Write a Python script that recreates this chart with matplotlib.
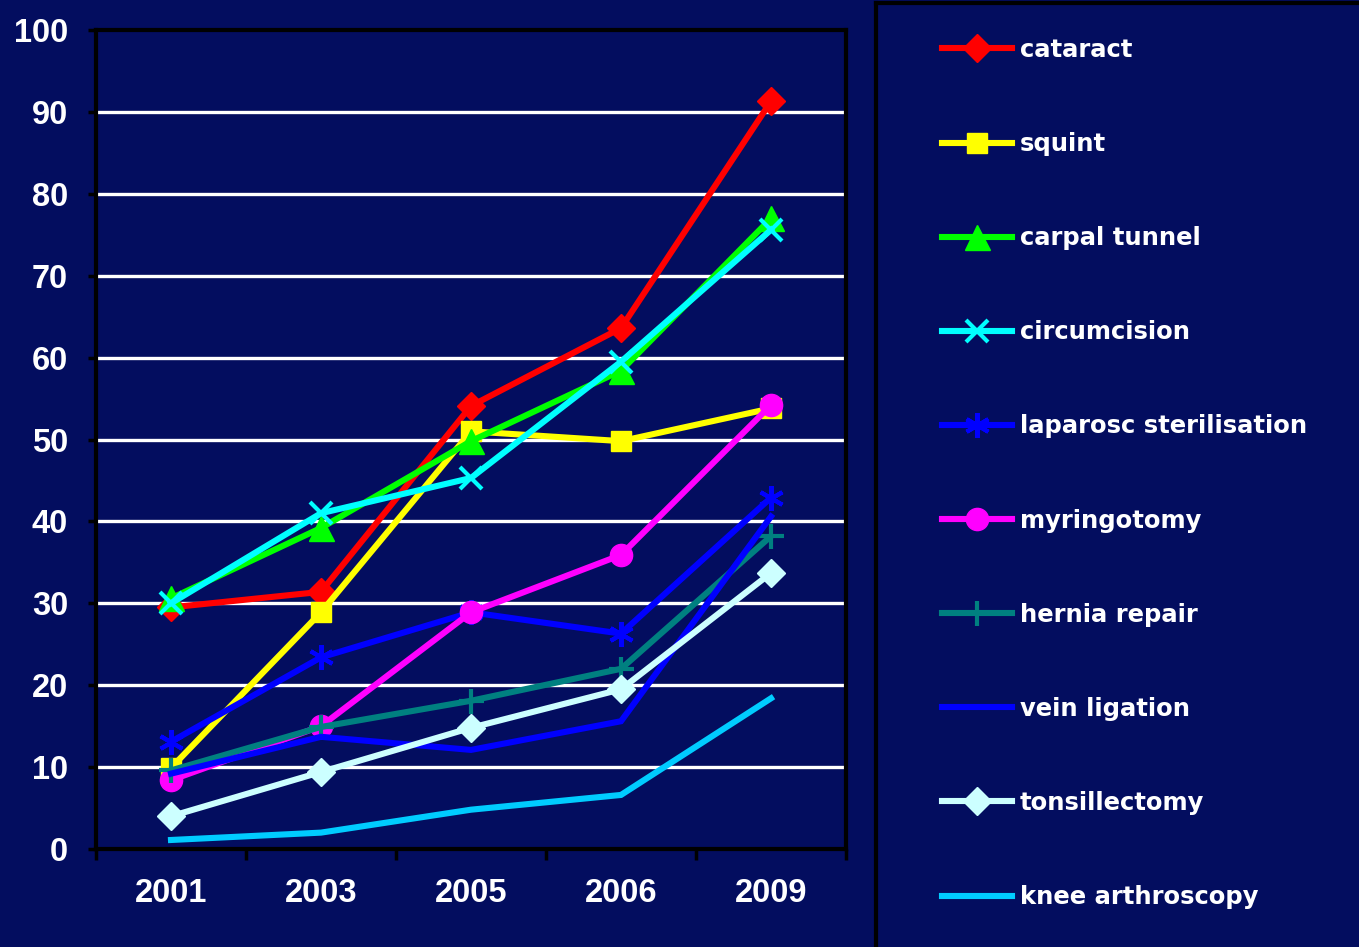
import matplotlib
matplotlib.use("Agg")
import matplotlib.pyplot as plt
from matplotlib.ticker import FixedLocator, NullFormatter, FixedFormatter

years = ["2001", "2003", "2005", "2006", "2009"]

cataract = [29.5, 31.4, 54.1, 63.6, 91.3]
squint = [9.9, 28.9, 51.0, 49.8, 53.8]
carpal_tunnel = [30.6, 39.2, 49.8, 58.4, 77.0]
circumcision = [30.0, 41.0, 45.3, 59.5, 75.6]
laparosc_sterilisation = [13.1, 23.4, 28.9, 26.3, 42.9]
myringotomy = [8.4, 15.0, 28.9, 35.9, 54.2]
hernia_repair = [9.6, 14.9, 18.1, 22.0, 38.2]
vein_ligation = [9.2, 13.7, 12.1, 15.6, 40.6]
tonsillectomy = [4.0, 9.4, 14.8, 19.5, 33.7]
knee_arthroscopy = [1.1, 2.0, 4.8, 6.6, 18.4]

series_names = ["cataract", "squint", "carpal tunnel", "circumcision",
                "laparosc sterilisation", "myringotomy", "hernia repair",
                "vein ligation", "tonsillectomy", "knee arthroscopy"]
series_values = [cataract, squint, carpal_tunnel, circumcision,
                 laparosc_sterilisation, myringotomy, hernia_repair,
                 vein_ligation, tonsillectomy, knee_arthroscopy]

BG = "#030D5F"
styles = [
    dict(color="#FF0000", marker="D", markersize=14),
    dict(color="#FFFF00", marker="s", markersize=15),
    dict(color="#00FF00", marker="^", markersize=18),
    dict(color="#00FFFF", marker="x", markersize=16, markeredgewidth=3),
    dict(color="#0000FF", marker=(6, 2, 0), markersize=18, markeredgewidth=3),
    dict(color="#FF00FF", marker="o", markersize=16),
    dict(color="#008080", marker="+", markersize=18, markeredgewidth=3),
    dict(color="#0000FF", marker=None),
    dict(color="#CCFFFF", marker="D", markersize=14),
    dict(color="#00CCFF", marker=None),
]

plt.rcParams["font.family"] = ["Liberation Sans", "DejaVu Sans"]
plt.rcParams["font.weight"] = "bold"

fig = plt.figure(figsize=(13.59, 9.47), dpi=100, facecolor=BG)
ax = fig.add_axes([96 / 1359, 1 - 849 / 947, (846 - 96) / 1359, (849 - 30) / 947])
ax.set_facecolor(BG)

x = list(range(len(years)))
handles = []
for name, vals, st in zip(series_names, series_values, styles):
    (h,) = ax.plot(x, vals, linewidth=4.4, label=name, solid_joinstyle="miter",
                   **st)
    handles.append(h)

ax.set_xlim(-0.5, len(years) - 0.5)
ax.set_ylim(0, 100)
ax.set_yticks(range(0, 101, 10))
ax.set_yticklabels([str(v) for v in range(0, 101, 10)])
for v in range(10, 100, 10):
    ax.axhline(v, color="white", linewidth=2.4, zorder=0.5)

# category boundaries carry the tick marks, centres carry the year labels
ax.xaxis.set_major_locator(FixedLocator([i - 0.5 for i in range(len(years) + 1)]))
ax.xaxis.set_major_formatter(NullFormatter())
ax.xaxis.set_minor_locator(FixedLocator(x))
ax.xaxis.set_minor_formatter(FixedFormatter(years))
ax.tick_params(axis="x", which="major", length=8, width=2.5, color="black",
               direction="out")
ax.tick_params(axis="x", which="minor", length=0, pad=21, labelsize=23.5,
               labelcolor="white")
ax.tick_params(axis="y", length=6, width=2.5, color="black", direction="out",
               pad=14, labelsize=23.5, labelcolor="white")
for lab in ax.get_xticklabels(minor=True) + ax.get_yticklabels():
    lab.set_fontweight("bold")
for sp in ax.spines.values():
    sp.set_color("black")
    sp.set_linewidth(3)

# legend panel with a black frame
lax = fig.add_axes([876 / 1359, -0.05, 0.5, 1.05 - 3 / 947])
lax.set_facecolor(BG)
lax.set_xticks([])
lax.set_yticks([])
for sp in lax.spines.values():
    sp.set_color("black")
    sp.set_linewidth(3)

leg = fig.legend(handles=handles, labels=series_names, loc="upper left",
                 bbox_to_anchor=(942 / 1359, 1 - 38 / 947),
                 frameon=False, labelspacing=2.885,
                 prop=dict(family="DejaVu Sans", weight="bold", size=17.5),
                 handlelength=2.9, handletextpad=0.3, borderpad=0,
                 borderaxespad=0, markerscale=1.0)
for t in leg.get_texts():
    t.set_color("white")

fig.savefig("out.png", dpi=100, facecolor=BG)
